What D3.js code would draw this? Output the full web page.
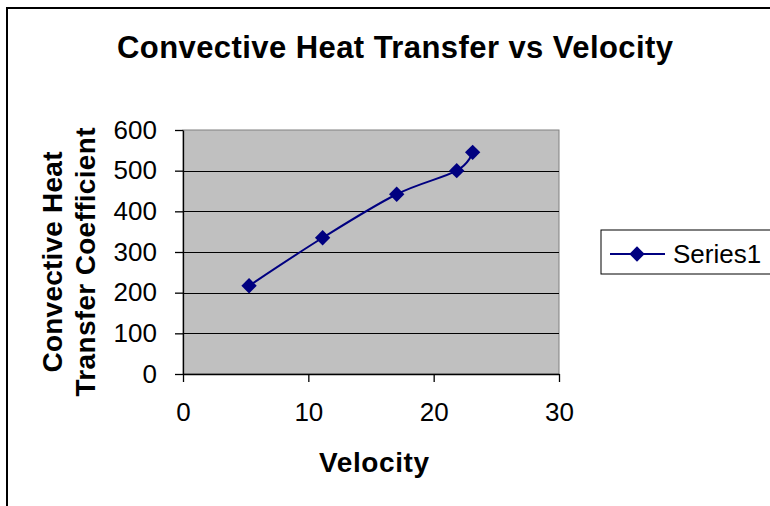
<!DOCTYPE html>
<meta charset="utf-8">
<html>
<head>
    <title>Convective Heat Transfer vs Velocity</title>
    <script src="https://d3js.org/d3.v7.min.js"></script>
</head>
<style>
    body { margin: 0; background: white; }
    svg text { font-family: "Liberation Sans", Arial, sans-serif; fill: black; }
</style>
<body>
<div id="chartdiv"></div>
<script>
// values
var velocity = [5.27, 11.14, 17.05, 21.84, 23.11];
var htc = [217, 335, 442, 500, 545];
var xTicks = [0, 10, 20, 30];
var yTicks = [0, 100, 200, 300, 400, 500, 600];
var seriesName = "Series1";

var points = velocity.map(function(v, i) { return {x: v, y: htc[i]}; });

var width = 770, height = 506;
var plot = {left: 183, top: 130, right: 559, bottom: 374};

var svg = d3.select("#chartdiv").append("svg")
    .attr("width", width)
    .attr("height", height);

// chart border (runs off the right and bottom of the picture)
svg.append("rect")
    .attr("x", 7).attr("y", 8)
    .attr("width", 900).attr("height", 700)
    .style("fill", "white")
    .style("stroke", "black")
    .style("stroke-width", 2);

var scaleX = d3.scaleLinear().domain([0, 30]).range([plot.left, plot.right]);
var scaleY = d3.scaleLinear().domain([0, 600]).range([plot.bottom, plot.top]);

// plot area
svg.append("rect")
    .attr("x", plot.left).attr("y", plot.top)
    .attr("width", plot.right - plot.left)
    .attr("height", plot.bottom - plot.top)
    .style("fill", "#c0c0c0")
    .style("stroke", "#808080")
    .style("stroke-width", 1);

// gridlines
svg.append("g")
    .selectAll("line")
    .data(yTicks.filter(function(d) { return d > 0 && d < 600; }))
    .enter().append("line")
    .attr("x1", plot.left).attr("x2", plot.right)
    .attr("y1", function(d) { return Math.round(scaleY(d)) + 0.5; })
    .attr("y2", function(d) { return Math.round(scaleY(d)) + 0.5; })
    .style("stroke", "black")
    .style("stroke-width", 1);

// axes
var axisX = svg.append("g")
    .attr("transform", "translate(0," + plot.bottom + ")")
    .call(d3.axisBottom(scaleX).tickValues(xTicks).tickSize(8).tickPadding(21).tickSizeOuter(0));

var axisY = svg.append("g")
    .attr("transform", "translate(" + plot.left + ",0)")
    .call(d3.axisLeft(scaleY).tickValues(yTicks).tickSize(8).tickPadding(18).tickSizeOuter(0));

[axisX, axisY].forEach(function(ax) {
    ax.selectAll("path, line").style("stroke", "black").style("stroke-width", 1.3);
    ax.selectAll("text")
        .style("font-size", "26px")
        .style("font-family", "'Liberation Sans', Arial, sans-serif")
        .attr("fill", "black");
});

// series line, smoothed like the original
var line = d3.line()
    .x(function(d) { return scaleX(d.x); })
    .y(function(d) { return scaleY(d.y); })
    .curve(d3.curveCatmullRom.alpha(0));

svg.append("path")
    .datum(points)
    .attr("d", line)
    .style("fill", "none")
    .style("stroke", "#000080")
    .style("stroke-width", 2);

var diamond = d3.symbol().type(d3.symbolDiamond2).size(150);

svg.selectAll(".marker")
    .data(points)
    .enter().append("path")
    .attr("class", "marker")
    .attr("d", diamond)
    .attr("transform", function(d) { return "translate(" + scaleX(d.x) + "," + scaleY(d.y) + ")"; })
    .style("fill", "#000080");

// titles (stretched to the widths seen in the original)
svg.append("text")
    .attr("x", 395).attr("y", 58)
    .attr("text-anchor", "middle")
    .attr("textLength", 556)
    .attr("lengthAdjust", "spacing")
    .style("font-size", "31px")
    .style("font-weight", "bold")
    .text("Convective Heat Transfer vs Velocity");

svg.append("text")
    .attr("x", 374).attr("y", 472)
    .attr("text-anchor", "middle")
    .attr("textLength", 110)
    .attr("lengthAdjust", "spacing")
    .style("font-size", "28px")
    .style("font-weight", "bold")
    .text("Velocity");

var yTitle = svg.append("text")
    .attr("transform", "translate(0,262) rotate(-90)")
    .attr("text-anchor", "middle")
    .style("font-size", "28px")
    .style("font-weight", "bold");
yTitle.append("tspan").attr("x", 0).attr("y", 62)
    .attr("textLength", 221).attr("lengthAdjust", "spacing")
    .text("Convective Heat");
yTitle.append("tspan").attr("x", 0).attr("y", 95)
    .attr("textLength", 269).attr("lengthAdjust", "spacing")
    .text("Transfer Coefficient");

// legend
var legend = svg.append("g");
legend.append("rect")
    .attr("x", 601).attr("y", 230)
    .attr("width", 300).attr("height", 44)
    .style("fill", "white")
    .style("stroke", "black")
    .style("stroke-width", 1);
legend.append("line")
    .attr("x1", 610).attr("x2", 665)
    .attr("y1", 254).attr("y2", 254)
    .style("stroke", "#000080")
    .style("stroke-width", 2);
legend.append("path")
    .attr("d", diamond)
    .attr("transform", "translate(637,254)")
    .style("fill", "#000080");
legend.append("text")
    .attr("x", 673).attr("y", 263)
    .style("font-size", "26px")
    .text(seriesName);
</script>
</body>
</html>
